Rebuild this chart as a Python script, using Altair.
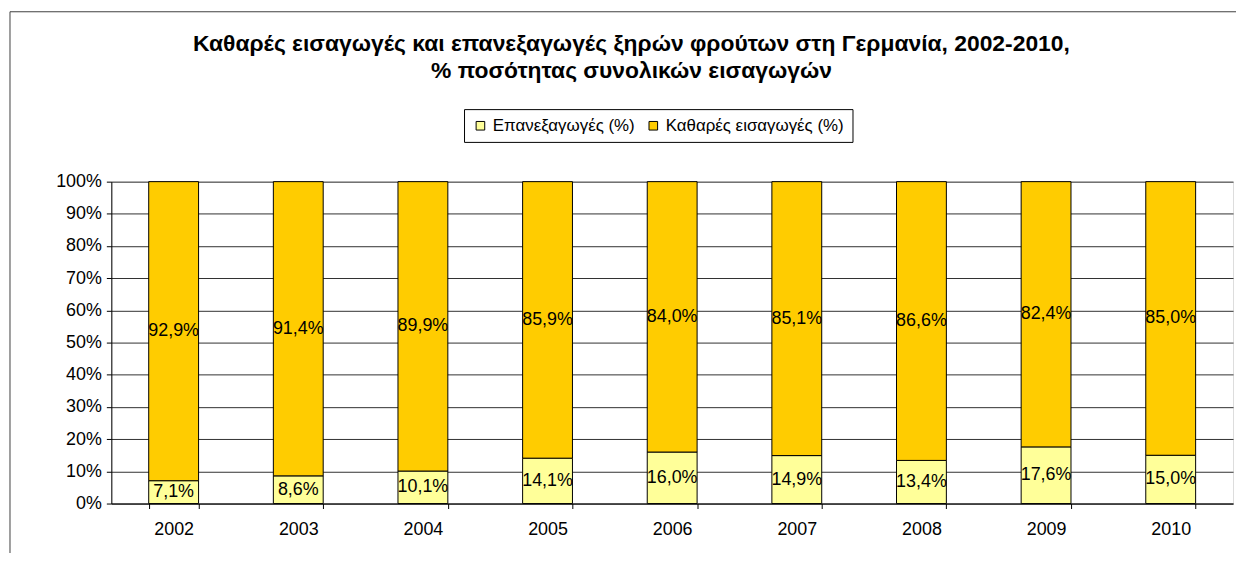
import altair as alt
import pandas as pd

years = ["2002", "2003", "2004", "2005", "2006", "2007", "2008", "2009", "2010"]
reexports = [7.1, 8.6, 10.1, 14.1, 16.0, 14.9, 13.4, 17.6, 15.0]
net_imports = [92.9, 91.4, 89.9, 85.9, 84.0, 85.1, 86.6, 82.4, 85.0]
series_names = ["Επανεξαγωγές (%)", "Καθαρές εισαγωγές (%)"]
series_colors = ["#FFFF99", "#FFCC00"]
title_lines = ["Καθαρές εισαγωγές και επανεξαγωγές ξηρών φρούτων στη Γερμανία, 2002-2010,",
               "% ποσότητας συνολικών εισαγωγών"]

rows = []
for i, y in enumerate(years):
    for k, (name, vals) in enumerate(zip(series_names, [reexports, net_imports])):
        v = vals[i]
        rows.append({"year": y, "series": name, "order": k, "value": v,
                     "label": f"{v:.1f}".replace(".", ",") + "%"})
df = pd.DataFrame(rows)

FONT = "Liberation Sans"

base = alt.Chart(df).transform_stack(
    stack="value", groupby=["year"], as_=["v0", "v1"], sort=[alt.SortField("order")]
).transform_calculate(mid="(datum.v0 + datum.v1) / 2")

xscale = alt.Scale(paddingInner=0.6, paddingOuter=0.3)
yscale = alt.Scale(domain=[0, 100], nice=False)

xaxis = alt.Axis(labelAngle=0, labelFontSize=18, labelFont=FONT, labelColor="black",
                 tickBand="extent", tickColor="black", tickSize=5,
                 domainColor="black", labelPadding=12, grid=False)
yaxis = alt.Axis(values=list(range(0, 101, 10)), labelExpr="datum.value + '%'",
                 labelFontSize=18, labelFont=FONT, labelColor="black",
                 labelOverlap=False,
                 tickColor="black", tickSize=5, domainColor="black",
                 gridColor="#303030", gridWidth=1, labelPadding=5)

bars = base.mark_bar(stroke="black", strokeWidth=1).encode(
    x=alt.X("year:N", title=None, scale=xscale, axis=xaxis),
    y=alt.Y("v0:Q", title=None, scale=yscale, axis=yaxis),
    y2="v1:Q",
    color=alt.Color("series:N",
                    scale=alt.Scale(domain=series_names, range=series_colors),
                    legend=alt.Legend(title=None, orient="none", legendX=355, legendY=-73,
                                      direction="horizontal", symbolType="square",
                                      symbolSize=75, symbolStrokeColor="black",
                                      symbolStrokeWidth=1, labelFontSize=17, labelFont=FONT,
                                      labelColor="black", strokeColor="black", padding=8,
                                      columnPadding=10, labelLimit=300)),
)

labels = base.mark_text(fontSize=18, font=FONT, color="black", baseline="middle").encode(
    x=alt.X("year:N", title=None, scale=xscale, axis=xaxis),
    y=alt.Y("mid:Q", title=None, scale=yscale, axis=yaxis),
    text="label:N",
)

frame_data = alt.Data(values=[{"a": 1}])
top_rule = alt.Chart(frame_data).mark_rule(color="#404040", strokeWidth=1, clip=False).encode(
    x=alt.value(-102), x2=alt.value(1140), y=alt.value(-171))
left_rule = alt.Chart(frame_data).mark_rule(color="#404040", strokeWidth=1, clip=False).encode(
    x=alt.value(-102), y=alt.value(-171), y2=alt.value(390))

chart = alt.layer(bars, labels, top_rule, left_rule).properties(
    width=1129, height=324,
    title=alt.TitleParams(text=title_lines, fontSize=23, fontWeight="bold", font=FONT,
                          anchor="middle", color="black", offset=-72, dx=-41, lineHeight=27),
    padding={"left": 104, "top": 173, "right": 3, "bottom": 48},
    autosize=alt.AutoSizeParams(type="none"),
).configure_view(stroke="#808080").configure(background="white")

chart.save("out.html", embed_options={"renderer": "svg", "actions": False})
